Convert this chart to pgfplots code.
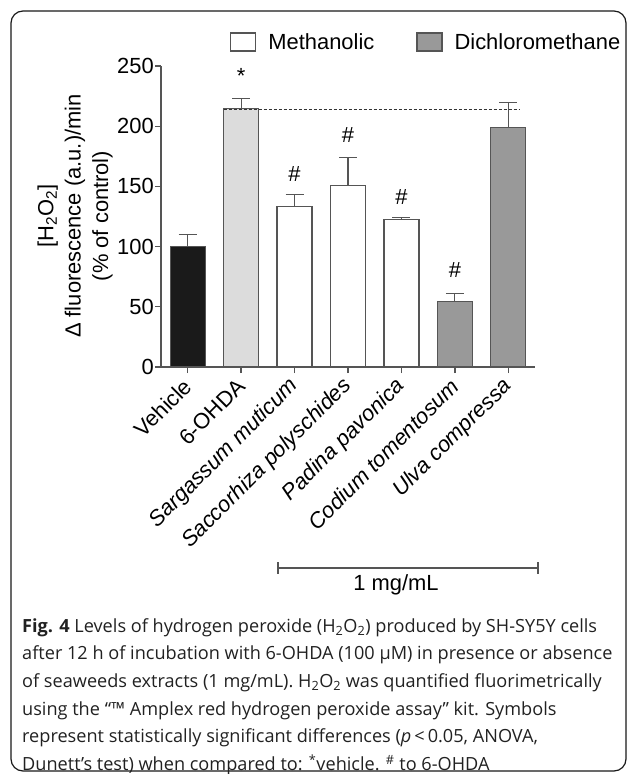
\documentclass[border=0pt]{standalone}
\usepackage{fontspec}
\setmainfont{Liberation Sans}
\newfontfamily\capfont{Open Sans}
\usepackage{pgfplots}
\pgfplotsset{compat=1.18}
\definecolor{edge}{HTML}{555555}
\definecolor{vehc}{HTML}{1A1A1A}
\definecolor{ohda}{HTML}{DCDCDC}
\definecolor{dcm}{HTML}{999999}
\newcommand{\lbl}{\fontsize{22}{27.5}\selectfont}
\pgfplotsset{
  mybar/.style={ybar, bar shift=0pt, draw=edge, line width=1.2bp, forget plot,
    error bars/y dir=plus, error bars/y explicit,
    error bars/error bar style={edge, line width=1.2bp},
    error bars/error mark options={rotate=90, mark size=9bp, edge, line width=1.2bp}},
}
\begin{document}
\begin{tikzpicture}
\useasboundingbox (0,0) rectangle (627bp,-774bp);
\draw[line width=1.2bp, rounded corners=12bp, black!90] (11bp,-11bp) rectangle (626bp,-771bp);
\begin{axis}[
  at={(161bp,-367bp)}, anchor=south west,
  scale only axis, width=374bp, height=301bp,
  xmin=-0.5, xmax=6.5, ymin=0, ymax=250,
  axis x line*=bottom, axis y line*=left,
  axis line style={edge, line width=1.3bp, -},
  tick style={edge, line width=1.3bp},
  tick align=outside, major tick length=6bp,
  ytick={0,50,...,250},
  xtick={0,...,6},
  xticklabels={Vehicle, 6-OHDA, \textit{Sargassum muticum}, \textit{Saccorhiza polyschides}, \textit{Padina pavonica}, \textit{Codium tomentosum}, \textit{Ulva compressa}},
  xticklabel style={yshift=-9bp, xshift=1bp, rotate=45, anchor=east, inner sep=1bp},
  yticklabel style={inner sep=1bp},
  tick label style={font=\lbl},
  /pgf/number format/assume math mode=true,
  bar width=35bp,
  clip=false,
  legend columns=2,
  legend style={at={(0.1765,1.08)}, anchor=west, draw=none, fill=none, font=\lbl,
    /tikz/every odd column/.append style={column sep=10bp},
    /tikz/every even column/.append style={column sep=40bp}},
  legend image code/.code={\draw[#1, line width=1.2bp] (0bp,-9bp) rectangle (25bp,9bp);},
]
\addlegendimage{fill=white, draw=edge}
\addlegendentry{Methanolic}
\addlegendimage{fill=dcm, draw=edge}
\addlegendentry{Dichloromethane}

\addplot[mybar, fill=vehc] coordinates {(0,100) +- (0,9.8)};
\addplot[mybar, fill=ohda] coordinates {(1,214.7) +- (0,8.6)};
\addplot[mybar, fill=white] coordinates {(2,133) +- (0,10.3)};
\addplot[mybar, fill=white] coordinates {(3,150.8) +- (0,23.4)};
\addplot[mybar, fill=white] coordinates {(4,122.8) +- (0,1.4)};
\addplot[mybar, fill=dcm] coordinates {(5,54.4) +- (0,6.6)};
\addplot[mybar, fill=dcm] coordinates {(6,199.2) +- (0,20.2)};
\addplot[black!80, line width=1bp, dash pattern=on 3bp off 2bp, forget plot] coordinates {(0.67,213.6) (6.21,213.6)};

\node[font=\lbl] at (axis cs:1,242) {*};
\node[font=\lbl] at (axis cs:2,160) {\#};
\node[font=\lbl] at (axis cs:3,192.5) {\#};
\node[font=\lbl] at (axis cs:4,140.8) {\#};
\node[font=\lbl] at (axis cs:5,80.8) {\#};
\end{axis}
\node[rotate=90, align=center, font=\lbl] at (75bp,-216bp)
  {[H\textsubscript{2}O\textsubscript{2}]\\ Δ fluorescence (a.u.)/min\\ (\% of control)};
\draw[edge, line width=1.3bp] (278bp,-568bp) -- (538bp,-568bp);
\draw[edge, line width=1.3bp] (278bp,-562bp) -- (278bp,-574bp);
\draw[edge, line width=1.3bp] (538bp,-562bp) -- (538bp,-574bp);
\node[font=\lbl] at (396bp,-585bp) {1 mg/mL};
\node[anchor=north west, inner sep=0pt, align=left, text=black!87,
  font=\capfont\fontsize{18.2}{27.8}\selectfont] at (22bp,-618bp)
 {\textbf{Fig. 4} Levels of hydrogen peroxide (H\textsubscript{2}O\textsubscript{2}) produced by SH-SY5Y cells\\
  after 12 h of incubation with 6-OHDA (100 µM) in presence or absence\\
  of seaweeds extracts (1 mg/mL). H\textsubscript{2}O\textsubscript{2} was quantified fluorimetrically\\
  using the “™ Amplex red hydrogen peroxide assay” kit. Symbols\\
  represent statistically significant differences (\textit{p}\,<\,0.05, ANOVA,\\
  Dunett’s test) when compared to: \textsuperscript{*}vehicle. \textsuperscript{\#} to 6-OHDA};
\end{tikzpicture}
\end{document}
